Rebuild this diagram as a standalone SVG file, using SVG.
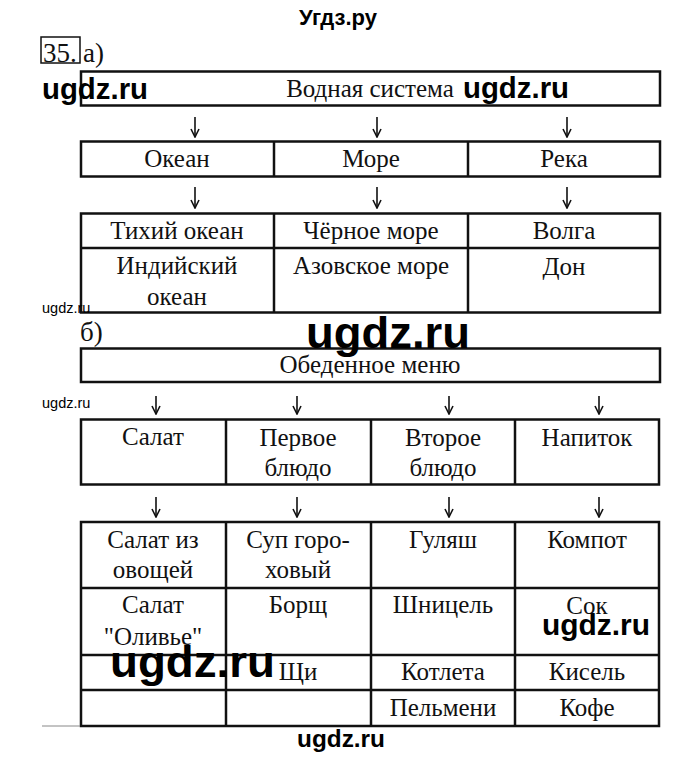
<svg xmlns="http://www.w3.org/2000/svg" width="680" height="759" viewBox="0 0 680 759">
<style>
.bg{fill:#fff}
.cell{fill:none;stroke:#111;stroke-width:2.5}
.grid{stroke:#111;stroke-width:2.5}
.t{font-family:"Liberation Serif","Times New Roman",serif;font-size:25px;fill:#111;text-anchor:middle}
.lbl{font-family:"Liberation Serif","Times New Roman",serif;font-size:27px;fill:#111}
.wm{font-family:"Liberation Sans",Arial,sans-serif;font-weight:bold;fill:#000}
.wms{font-family:"Liberation Sans",Arial,sans-serif;font-size:14.5px;fill:#000}
.arr{stroke:#111;stroke-width:1.6;fill:none;marker-end:url(#ah)}
</style>
<defs>
<marker id="ah" viewBox="0 0 10 10" refX="9" refY="5" markerWidth="10" markerHeight="10" markerUnits="userSpaceOnUse" orient="auto">
<path d="M1,1 L9,5 L1,9" fill="none" stroke="#111" stroke-width="1.6"/>
</marker>
</defs>
<rect class="bg" x="0" y="0" width="680" height="759"/>

<text class="wm" x="338" y="25" font-size="22" text-anchor="middle">Угдз.ру</text>

<g id="label-35">
<rect x="41" y="37" width="39" height="26" fill="none" stroke="#111" stroke-width="1.5"/>
<text class="lbl" x="43" y="62">35.</text>
<text class="lbl" x="83" y="62">а)</text>
</g>

<g id="node-vodnaya">
<rect class="cell" x="81" y="71.5" width="579" height="34"/>
<text class="t" x="370" y="97">Водная система</text>
</g>

<g id="node-a-row">
<rect class="cell" x="81" y="141.5" width="579" height="35"/>
<line class="grid" x1="274" y1="141.5" x2="274" y2="176.5"/>
<line class="grid" x1="468" y1="141.5" x2="468" y2="176.5"/>
<text class="t" x="177" y="167">Океан</text>
<text class="t" x="371" y="167">Море</text>
<text class="t" x="564" y="167">Река</text>
</g>

<g id="node-a-table">
<rect class="cell" x="81" y="213.5" width="579" height="99"/>
<line class="grid" x1="81" y1="248" x2="660" y2="248"/>
<line class="grid" x1="274" y1="213.5" x2="274" y2="312.5"/>
<line class="grid" x1="468" y1="213.5" x2="468" y2="312.5"/>
<text class="t" x="177" y="239">Тихий океан</text>
<text class="t" x="371" y="239">Чёрное море</text>
<text class="t" x="564" y="239">Волга</text>
<text class="t" x="177" y="274">Индийский</text>
<text class="t" x="177" y="305">океан</text>
<text class="t" x="371" y="274">Азовское море</text>
<text class="t" x="564" y="275">Дон</text>
</g>

<text class="lbl" x="80" y="341">б)</text>

<g id="node-menu">
<rect class="cell" x="81" y="348.5" width="579" height="33.5"/>
<text class="t" x="370" y="373">Обеденное меню</text>
</g>

<g id="node-b-row">
<rect class="cell" x="81" y="419.5" width="578" height="65"/>
<line class="grid" x1="226" y1="419.5" x2="226" y2="484.5"/>
<line class="grid" x1="371" y1="419.5" x2="371" y2="484.5"/>
<line class="grid" x1="515" y1="419.5" x2="515" y2="484.5"/>
<text class="t" x="153" y="445">Салат</text>
<text class="t" x="298" y="446">Первое</text>
<text class="t" x="298" y="476">блюдо</text>
<text class="t" x="443" y="446">Второе</text>
<text class="t" x="443" y="476">блюдо</text>
<text class="t" x="587" y="446">Напиток</text>
</g>

<g id="node-b-table">
<rect class="cell" x="81" y="522" width="578" height="204"/>
<line class="grid" x1="81" y1="588" x2="659" y2="588"/>
<line class="grid" x1="81" y1="655" x2="659" y2="655"/>
<line class="grid" x1="81" y1="690" x2="659" y2="690"/>
<line class="grid" x1="226" y1="522" x2="226" y2="726"/>
<line class="grid" x1="371" y1="522" x2="371" y2="726"/>
<line class="grid" x1="515" y1="522" x2="515" y2="726"/>
<text class="t" x="153" y="548">Салат из</text>
<text class="t" x="153" y="578">овощей</text>
<text class="t" x="298" y="548">Суп горо-</text>
<text class="t" x="298" y="578">ховый</text>
<text class="t" x="443" y="548">Гуляш</text>
<text class="t" x="587" y="548">Компот</text>
<text class="t" x="153" y="613">Салат</text>
<text class="t" x="153" y="645">"Оливье"</text>
<text class="t" x="298" y="613">Борщ</text>
<text class="t" x="443" y="613">Шницель</text>
<text class="t" x="587" y="614">Сок</text>
<text class="t" x="298" y="680">Щи</text>
<text class="t" x="443" y="680">Котлета</text>
<text class="t" x="587" y="680">Кисель</text>
<text class="t" x="443" y="716">Пельмени</text>
<text class="t" x="587" y="716">Кофе</text>
</g>

<g id="connectors">
<line class="arr" x1="195" y1="117" x2="195" y2="137"/>
<line class="arr" x1="377" y1="117" x2="377" y2="137"/>
<line class="arr" x1="567" y1="117" x2="567" y2="137"/>
<line class="arr" x1="195" y1="187" x2="195" y2="208"/>
<line class="arr" x1="377" y1="187" x2="377" y2="208"/>
<line class="arr" x1="567" y1="187" x2="567" y2="208"/>
<line class="arr" x1="156" y1="396" x2="156" y2="414"/>
<line class="arr" x1="297" y1="396" x2="297" y2="414"/>
<line class="arr" x1="449" y1="396" x2="449" y2="414"/>
<line class="arr" x1="599" y1="396" x2="599" y2="414"/>
<line class="arr" x1="156" y1="497" x2="156" y2="517"/>
<line class="arr" x1="297" y1="497" x2="297" y2="517"/>
<line class="arr" x1="449" y1="497" x2="449" y2="517"/>
<line class="arr" x1="599" y1="497" x2="599" y2="517"/>
</g>

<line x1="42" y1="726" x2="80" y2="726" stroke="#888" stroke-width="1"/>

<g id="watermarks">
<text class="wm" x="42" y="99" font-size="29" textLength="106" lengthAdjust="spacingAndGlyphs">ugdz.ru</text>
<text class="wm" x="463" y="98" font-size="29" textLength="106" lengthAdjust="spacingAndGlyphs">ugdz.ru</text>
<text class="wms" x="42" y="313">ugdz.ru</text>
<text class="wm" x="306" y="348" font-size="44" textLength="164" lengthAdjust="spacingAndGlyphs">ugdz.ru</text>
<text class="wms" x="42" y="408">ugdz.ru</text>
<text class="wm" x="542" y="635" font-size="30" textLength="108" lengthAdjust="spacingAndGlyphs">ugdz.ru</text>
<text class="wm" x="110" y="677" font-size="45" textLength="165" lengthAdjust="spacingAndGlyphs">ugdz.ru</text>
<text class="wm" x="297" y="747" font-size="23" textLength="88" lengthAdjust="spacingAndGlyphs">ugdz.ru</text>
</g>
</svg>
